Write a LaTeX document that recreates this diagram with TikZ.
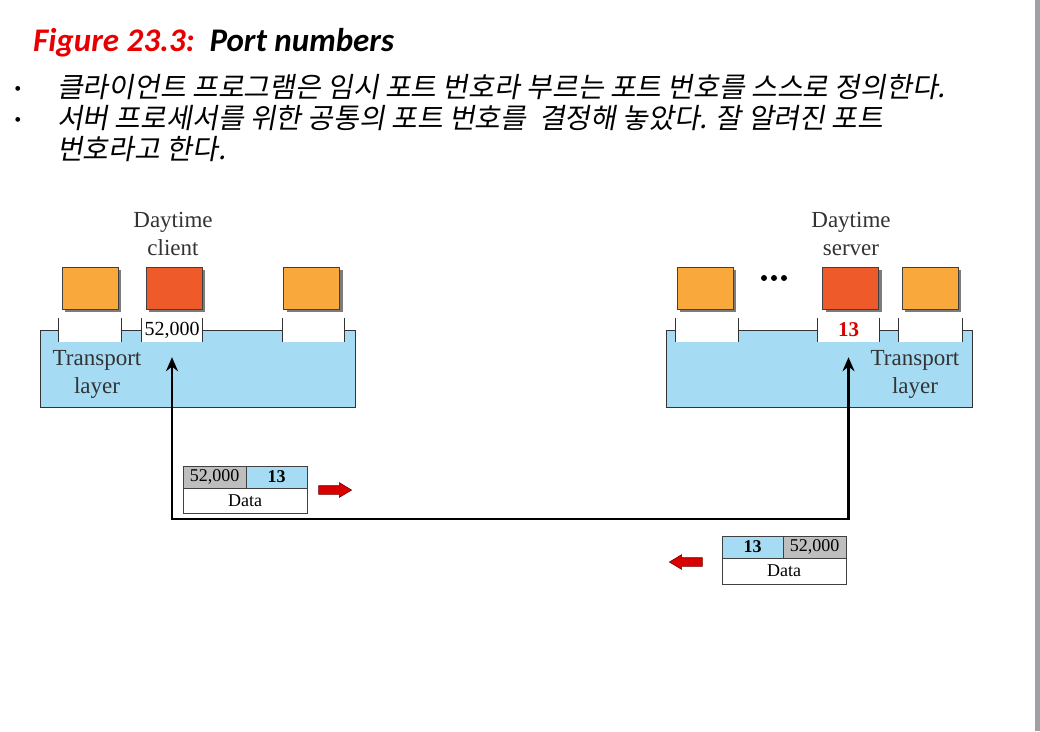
\documentclass[tikz,border=0pt]{standalone}
\usepackage{fontspec}
\setmainfont{Liberation Serif}
\newfontfamily\krfont[FakeSlant=0.18]{Noto Sans CJK KR}
\newfontfamily\titlefont{Carlito}
\usetikzlibrary{arrows.meta, shapes.arrows, shadows}
\definecolor{appfill}{RGB}{249,169,60}
\definecolor{srvfill}{RGB}{239,90,42}
\definecolor{layerblue}{RGB}{166,220,243}
\definecolor{hdrgray}{RGB}{190,190,190}
\definecolor{figred}{RGB}{232,0,0}
\definecolor{edgegray}{RGB}{160,160,165}

\tikzset{
  app/.style={draw=black!75, line width=0.8pt, minimum width=56pt, minimum height=42pt, inner sep=0pt,
    drop shadow={shadow xshift=3pt, shadow yshift=-3pt, fill=black!60, opacity=0.85}},
  port/.style={fill=white, minimum height=24pt, inner sep=0pt, font=\fontsize{20}{22}\selectfont},
  tick/.style={draw=black!80, line width=0.9pt},
  lbl/.style={align=center, inner sep=0pt, font=\fontsize{23}{28}\selectfont, text=black!80},
  cell/.style={draw=black!75, line width=0.8pt, minimum height=22pt, inner sep=0pt, font=\fontsize{18}{20}\selectfont},
  link/.style={{Stealth[length=14pt,width=12pt]}-{Stealth[length=14pt,width=12pt]}, line width=2.8pt},
  redarrow/.style={single arrow, fill=red!85!black, draw=red!45!black, line width=0.6pt,
    minimum height=33pt, inner xsep=0pt, inner ysep=4pt, single arrow head extend=3pt, single arrow tip angle=62},
  krline/.style={anchor=west, inner sep=0pt, font=\krfont\fontsize{28}{32}\selectfont},
}

\begin{document}
\begin{tikzpicture}[x=1pt, y=-1pt]
  \def\ptop{330}
  \def\pbot{407}
  \def\appy{288}

  \useasboundingbox (0,0) rectangle (1040,731);
  \fill[white] (0,0) rectangle (1040,731);
  \fill[edgegray] (1035,0) rectangle (1040,731);

  % --- Heading and bullets ---
  \node[anchor=base west, inner sep=0pt, font=\titlefont\bfseries\itshape\fontsize{33}{38}\selectfont] (title) at (33,51)
    {\textcolor{figred}{Figure 23.3:}\ \ Port numbers};
  \node[krline] (b1) at (57,87) {클라이언트 프로그램은 임시 포트 번호라 부르는 포트 번호를 스스로 정의한다.};
  \node[krline] (b2) at (57,118) {서버 프로세서를 위한 공통의 포트 번호를\ \ 결정해 놓았다. 잘 알려진 포트};
  \node[krline] (b3) at (57,149) {번호라고 한다.};
  \node[inner sep=0pt, font=\fontsize{20}{20}\selectfont] (d1) at (18,91) {•};
  \node[inner sep=0pt, font=\fontsize{20}{20}\selectfont] (d2) at (18,122) {•};

  % --- Left: client host ---
  \draw[fill=layerblue, draw=black!80, line width=1pt] (40,\ptop) rectangle (355,\pbot);
  \node[port, minimum width=62pt] (pl1) at (90,\ptop) {};
  \node[port, minimum width=60pt] (pl2) at (172,\ptop) {52,000};
  \node[port, minimum width=61pt] (pl3) at (313.5,\ptop) {};

  \node[app, fill=appfill] (al1) at (90,\appy) {};
  \node[app, fill=srvfill] (al2) at (174,\appy) {};
  \node[app, fill=appfill] (al3) at (311.5,\appy) {};

  \node[lbl] (cname) at (173,234) {Daytime\\client};
  \node[lbl] (tl) at (97,374) {Transport\\layer};

  % --- Right: server host ---
  \draw[fill=layerblue, draw=black!80, line width=1pt] (666,\ptop) rectangle (972,\pbot);
  \node[port, minimum width=62pt] (ps1) at (707,\ptop) {};
  \node[port, minimum width=61pt, text=red!85!black, font=\bfseries\fontsize{21}{22}\selectfont] (ps2) at (848.5,\ptop) {13};
  \node[port, minimum width=63pt] (ps3) at (930.5,\ptop) {};

  \node[app, fill=appfill] (as1) at (705,\appy) {};
  \node[app, fill=srvfill] (as2) at (850.5,\appy) {};
  \node[app, fill=appfill] (as3) at (930,\appy) {};
  \foreach \x in {764,774,784}
    \fill (\x,278) circle (3);

  \node[lbl] (sname) at (851,234) {Daytime\\server};
  \node[lbl] (tr) at (915,374) {Transport\\layer};

  \foreach \p in {pl1,pl2,pl3,ps1,ps2,ps3}
    \draw[tick] (\p.north west) -- (\p.south west) (\p.north east) -- (\p.south east);

  % --- Path between the two ports ---
  \coordinate (mid) at (510,519);
  \draw[link] ([yshift=-15pt]pl2.south) |- (mid) -| ([yshift=-15pt]ps2.south);

  % --- Packets ---
  \node[cell, fill=hdrgray, minimum width=63pt] (k1s) at (214.5,477) {52,000};
  \node[cell, fill=layerblue, minimum width=61pt, font=\bfseries\fontsize{18}{20}\selectfont] (k1d) at (276.5,477) {13};
  \node[cell, minimum width=124pt, minimum height=25pt] (k1x) at (245,500.5) {Data};
  \node[redarrow] (m1) at (331.5,490) {};

  \node[cell, fill=layerblue, minimum width=61pt, font=\bfseries\fontsize{18}{20}\selectfont] (k2s) at (752.5,547) {13};
  \node[cell, fill=hdrgray, minimum width=63pt] (k2d) at (814.5,547) {52,000};
  \node[cell, minimum width=124pt, minimum height=26pt] (k2x) at (784,571) {Data};
  \node[redarrow, shape border rotate=180] (m2) at (689.5,562) {};
\end{tikzpicture}
\end{document}
